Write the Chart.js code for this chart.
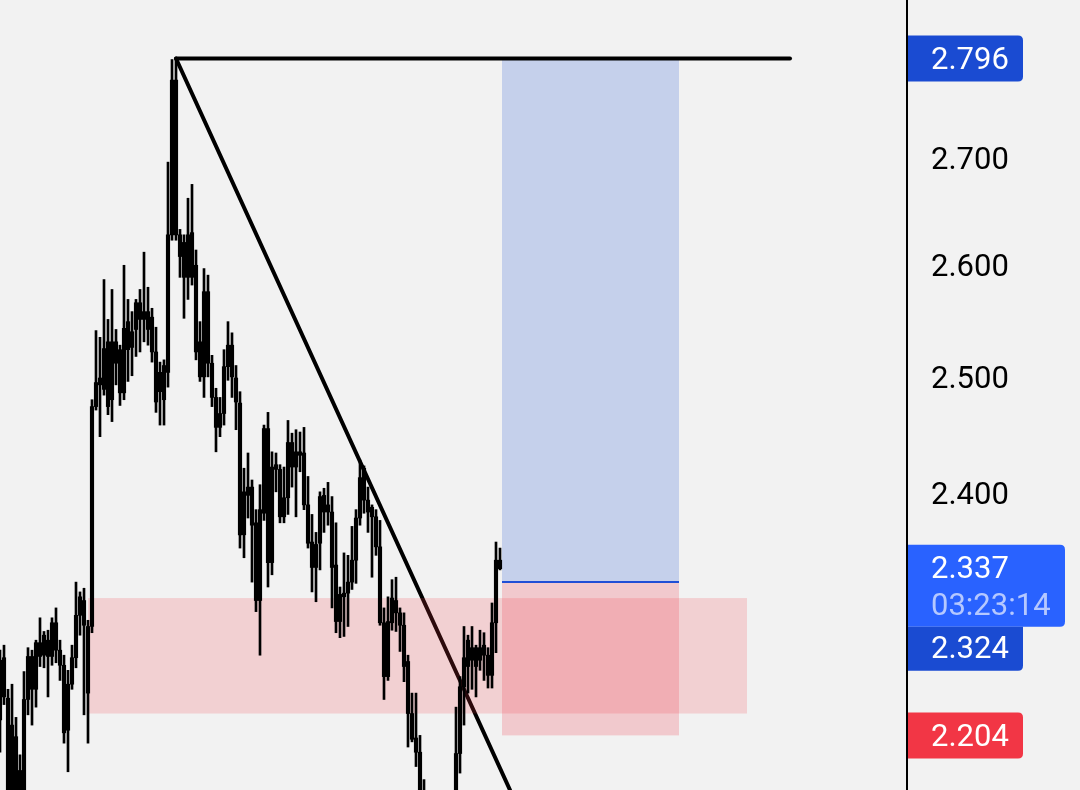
<!DOCTYPE html>
<html>
<head>
<meta charset="utf-8">
<script src="https://cdn.jsdelivr.net/npm/chart.js@4"></script>
<style>
  html, body { margin: 0; padding: 0; background: #f2f2f2; }
  #wrap { width: 1080px; height: 790px; }
  canvas { display: block; }
</style>
</head>
<body>
<div id="wrap"><canvas id="c" width="1080" height="790"></canvas></div>
<script>
// ---- data (prices) ----
const candleOpen = [2.263,2.234,2.233,2.155,2.203,2.155,2.162,2.232,2.266,2.240,2.277,2.267,2.279,2.266,2.293,2.271,2.259,2.208,2.244,2.265,
2.299,2.311,2.290,2.290,2.474,2.493,2.489,2.531,2.480,2.531,2.524,2.486,2.524,2.540,2.542,2.566,2.551,2.558,2.553,2.522,
2.487,2.510,2.504,2.628,2.775,2.628,2.621,2.589,2.630,2.600,2.531,2.500,2.576,2.512,2.482,2.456,2.468,2.509,2.528,2.499,
2.477,2.365,2.398,2.405,2.375,2.311,2.383,2.455,2.342,2.420,2.420,2.380,2.396,2.443,2.422,2.435,2.434,2.390,2.359,2.338,
2.358,2.398,2.384,2.384,2.340,2.294,2.314,2.317,2.326,2.344,2.379,2.421,2.394,2.388,2.380,2.355,2.293,2.250,2.293,2.311,
2.301,2.291,2.262,2.221,2.202,2.191,2.155,2.140,2.125,2.110,2.102,2.106,2.125,2.143,2.155,2.190,2.242,2.258,2.263,2.273,
2.263,2.267,2.267,2.251,2.293,2.344];
const candleHigh = [2.271,2.275,2.240,2.244,2.218,2.189,2.254,2.273,2.271,2.279,2.297,2.286,2.287,2.297,2.305,2.279,2.267,2.255,2.275,2.326,
2.318,2.321,2.295,2.480,2.541,2.535,2.587,2.551,2.578,2.542,2.528,2.600,2.569,2.558,2.569,2.578,2.612,2.580,2.561,2.544,
2.513,2.515,2.696,2.795,2.796,2.633,2.628,2.662,2.675,2.614,2.549,2.597,2.591,2.519,2.490,2.482,2.524,2.549,2.539,2.510,
2.487,2.421,2.434,2.411,2.386,2.407,2.458,2.469,2.435,2.434,2.424,2.422,2.462,2.451,2.454,2.452,2.456,2.414,2.382,2.367,
2.401,2.404,2.409,2.397,2.375,2.322,2.350,2.348,2.372,2.386,2.428,2.423,2.405,2.390,2.386,2.377,2.305,2.314,2.328,2.330,
2.305,2.301,2.267,2.237,2.237,2.204,2.170,2.158,2.132,2.117,2.117,2.128,2.151,2.160,2.226,2.250,2.290,2.283,2.290,2.275,
2.287,2.285,2.273,2.309,2.359,2.354];
const candleLow = [2.191,2.228,2.151,2.147,2.143,2.147,2.155,2.220,2.212,2.226,2.258,2.257,2.234,2.259,2.261,2.247,2.198,2.176,2.240,2.257,
2.283,2.220,2.198,2.285,2.471,2.448,2.484,2.467,2.461,2.493,2.475,2.480,2.496,2.501,2.518,2.522,2.531,2.528,2.513,2.469,
2.458,2.458,2.491,2.623,2.623,2.589,2.552,2.569,2.582,2.515,2.496,2.482,2.500,2.474,2.435,2.448,2.458,2.497,2.482,2.454,
2.354,2.346,2.379,2.326,2.302,2.267,2.377,2.322,2.332,2.401,2.375,2.375,2.382,2.405,2.380,2.418,2.386,2.354,2.318,2.310,
2.336,2.367,2.373,2.305,2.285,2.281,2.282,2.290,2.320,2.325,2.373,2.383,2.367,2.330,2.348,2.291,2.232,2.247,2.287,2.286,
2.270,2.246,2.195,2.199,2.180,2.147,2.132,2.117,2.102,2.095,2.099,2.102,2.117,2.136,2.147,2.175,2.212,2.237,2.240,2.234,
2.255,2.247,2.241,2.241,2.269,2.336];
const candleClose = [2.216,2.265,2.155,2.212,2.151,2.177,2.232,2.266,2.240,2.277,2.266,2.283,2.266,2.293,2.271,2.259,2.206,2.244,2.265,2.299,
2.314,2.291,2.237,2.474,2.495,2.499,2.525,2.474,2.531,2.512,2.486,2.543,2.549,2.526,2.566,2.551,2.558,2.542,2.522,2.478,
2.504,2.480,2.628,2.775,2.628,2.608,2.589,2.628,2.589,2.522,2.500,2.576,2.512,2.482,2.456,2.468,2.509,2.528,2.500,2.478,
2.365,2.401,2.405,2.373,2.311,2.386,2.455,2.342,2.422,2.424,2.380,2.396,2.443,2.422,2.435,2.432,2.390,2.358,2.338,2.357,
2.397,2.384,2.390,2.338,2.294,2.316,2.317,2.326,2.344,2.379,2.413,2.394,2.384,2.380,2.355,2.293,2.250,2.294,2.313,2.301,
2.291,2.258,2.221,2.201,2.191,2.155,2.140,2.125,2.110,2.102,2.106,2.125,2.147,2.158,2.190,2.242,2.265,2.279,2.273,2.258,
2.273,2.275,2.251,2.293,2.344,2.337];

const axisTicks = [2.4, 2.5, 2.6, 2.7];
const yRange = [2.1621, 2.8541];
const xRange = [0, 226.75];

// drawing levels (prices) and their bar-index spans
const resistanceLevel = 2.796;
const resistanceSpan = [44, 197.5];
const trendPoints = [[44, 2.796], [127.5, 2.1621]];
const targetPrice = 2.796;
const entryPrice = 2.326;
const stopPrice = 2.204;
const positionSpan = [125.5, 169.75];
const zoneTop = 2.313;
const zoneBottom = 2.221;
const zoneSpan = [22, 186.75];

const lastPrice = 2.337;
const countdown = "03:23:14";
const entryLabel = 2.324;

// ---- datasets ----
const wickData = candleHigh.map((h, i) => ({ x: i, y: [candleLow[i], h] }));
const bodyData = candleOpen.map((o, i) => ({ x: i, y: [o, candleClose[i]] }));

const overlay = {
  id: 'overlay',
  beforeDatasetDraw(chart, args) {
    if (args.index !== 1) return;
    const { ctx, scales: { x, y } } = chart;
    ctx.save();
    ctx.fillStyle = 'rgba(242,54,69,0.18)';
    const zx0 = x.getPixelForValue(zoneSpan[0]), zx1 = x.getPixelForValue(zoneSpan[1]);
    const zy0 = y.getPixelForValue(zoneTop), zy1 = y.getPixelForValue(zoneBottom);
    ctx.fillRect(zx0, zy0, zx1 - zx0, zy1 - zy0);
    const px0 = x.getPixelForValue(positionSpan[0]), px1 = x.getPixelForValue(positionSpan[1]);
    const ty = y.getPixelForValue(targetPrice), ey = y.getPixelForValue(entryPrice), sy = y.getPixelForValue(stopPrice);
    ctx.fillStyle = '#c5d0eb';
    ctx.fillRect(px0, ty, px1 - px0, ey - ty);
    ctx.fillStyle = 'rgba(242,54,69,0.21)';
    ctx.fillRect(px0, ey, px1 - px0, sy - ey);
    ctx.restore();
  },
  afterDraw(chart) {
    const { ctx, scales: { y } } = chart;
    const left = y.left + 1;
    const tx = y.left + 24;
    ctx.save();
    ctx.font = '31px Roboto';
    ctx.textBaseline = 'middle';
    ctx.textAlign = 'left';
    function box(x0, y0, x1, y1, rt, rb, color) {
      ctx.beginPath();
      ctx.moveTo(x0, y0);
      ctx.lineTo(x1 - rt, y0);
      ctx.quadraticCurveTo(x1, y0, x1, y0 + rt);
      ctx.lineTo(x1, y1 - rb);
      ctx.quadraticCurveTo(x1, y1, x1 - rb, y1);
      ctx.lineTo(x0, y1);
      ctx.closePath();
      ctx.fillStyle = color;
      ctx.fill();
    }
    let yc = y.getPixelForValue(targetPrice);
    box(left, yc - 23, 1023, yc + 23, 5, 5, '#1a4bd2');
    ctx.fillStyle = '#ffffff';
    ctx.fillText(targetPrice.toFixed(3), tx, yc + 3);
    yc = y.getPixelForValue(lastPrice);
    const lastBottom = yc + 58;
    box(left, yc - 24, 1065, lastBottom, 5, 5, '#2962ff');
    ctx.fillStyle = '#ffffff';
    ctx.fillText(lastPrice.toFixed(3), tx, yc + 2);
    ctx.fillStyle = '#b5c8ff';
    ctx.fillText(countdown, tx, yc + 39);
    box(left, lastBottom, 1023, lastBottom + 44, 0, 5, '#1a4bd2');
    ctx.fillStyle = '#ffffff';
    ctx.fillText(entryLabel.toFixed(3), tx, lastBottom + 24);
    yc = y.getPixelForValue(stopPrice);
    box(left, yc - 23, 1023, yc + 23, 5, 5, '#f23645');
    ctx.fillStyle = '#ffffff';
    ctx.fillText(stopPrice.toFixed(3), tx, yc + 3);
    ctx.restore();
  }
};

new Chart(document.getElementById('c'), {
  type: 'bar',
  data: {
    datasets: [
      { type: 'line', data: trendPoints.map(p => ({ x: p[0], y: p[1] })), borderColor: '#000', borderWidth: 4,
        pointRadius: 0, order: 10, borderCapStyle: 'round' },
      { type: 'bar', data: wickData, backgroundColor: '#000', barThickness: 2, grouped: false, order: 5, minBarLength: 1 },
      { type: 'bar', data: bodyData, backgroundColor: '#000', barThickness: 3.5, grouped: false, order: 4, minBarLength: 1.5 },
      { type: 'line', data: [{ x: positionSpan[0], y: entryPrice }, { x: positionSpan[1], y: entryPrice }],
        borderColor: '#1f4fd6', borderWidth: 2, pointRadius: 0, order: 2 },
      { type: 'line', data: resistanceSpan.map(v => ({ x: v, y: resistanceLevel })), borderColor: '#000', borderWidth: 4,
        pointRadius: 0, order: 1, borderCapStyle: 'round' }
    ]
  },
  options: {
    responsive: false,
    animation: false,
    devicePixelRatio: 1,
    layout: { padding: 0 },
    plugins: { legend: { display: false }, tooltip: { enabled: false } },
    scales: {
      x: { type: 'linear', min: xRange[0], max: xRange[1], display: false, offset: false, grid: { display: false } },
      y: {
        type: 'logarithmic', position: 'right', min: yRange[0], max: yRange[1], bounds: 'data',
        grid: { display: false, drawTicks: false },
        border: { display: true, color: '#000', width: 2 },
        afterBuildTicks: (s) => { s.ticks = axisTicks.map(v => ({ value: v })); },
        afterFit: (s) => { s.width = 173; s.paddingTop = 0; s.paddingBottom = 0; s.paddingLeft = 0; s.paddingRight = 0; },
        ticks: { padding: 24, labelOffset: 3, color: '#000', font: { family: 'Roboto', size: 31 }, callback: (v) => Number(v).toFixed(3) }
      }
    }
  },
  plugins: [overlay]
});
</script>
</body>
</html>
